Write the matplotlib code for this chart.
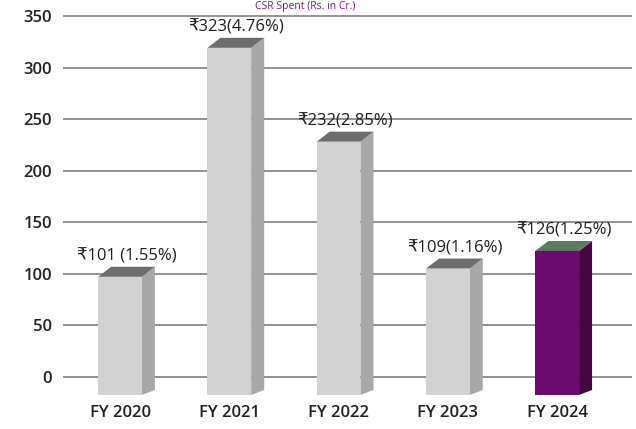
import numpy as np
import matplotlib
matplotlib.use("Agg")
import matplotlib.pyplot as plt
from matplotlib.patches import Polygon, Rectangle
from matplotlib.transforms import offset_copy

plt.rcParams['font.family'] = ['Open Sans', 'DejaVu Sans']

years = ['FY 2020', 'FY 2021', 'FY 2022', 'FY 2023', 'FY 2024']
spent = [101, 323, 232, 109, 126]
pct = ['1.55', '4.76', '2.85', '1.16', '1.25']
labels = ['\u20b9101 (1.55%)', '\u20b9323(4.76%)', '\u20b9232(2.85%)',
          '\u20b9109(1.16%)', '\u20b9126(1.25%)']

front_cols = ['#d2d2d2'] * 4 + ['#6b0a6f']
side_cols = ['#a8a8a8'] * 4 + ['#46063f']
top_cols = ['#6d6d6d'] * 4 + ['#5c7860']

fig = plt.figure(figsize=(6.36, 4.29), dpi=100)
ax = fig.add_axes([0.099, 0.0732, 0.895, 0.9016])
ax.set_xlim(-0.522, 4.686)
ax.set_ylim(-20, 355)

# back wall gridlines
for v in range(0, 351, 50):
    ax.axhline(v, color='#8a8a8a', lw=1.3, zorder=1)

# fake 3d columns: front face a touch lower than the wall, plinth down to the floor,
# side + top faces going back-right
front = offset_copy(ax.transData, fig=fig, x=0, y=-4, units='dots')
w = 0.40
px_y = 1.0314                 # pixels per unit on y
dx = 13 / 109.25
dy_top = 10 / px_y
dy_bot = 5 / px_y
floor = -14 / px_y            # floor sits in front of / below the 0 line
x = np.arange(len(years))

ax.bar(x, spent, width=w, color=front_cols, transform=front, zorder=3,
       edgecolor='none', clip_on=False)
for xi, v, fc, sc, tc in zip(x, spent, front_cols, side_cols, top_cols):
    r = xi + w / 2
    l = xi - w / 2
    ax.add_patch(Rectangle((l, floor), w, -floor + 0.5, facecolor=fc,
                           edgecolor='none', transform=front, zorder=3,
                           clip_on=False))
    side = Polygon([(r, floor), (r, v), (r + dx, v + dy_top),
                    (r + dx, floor + dy_bot)],
                   closed=True, facecolor=sc, edgecolor='none',
                   transform=front, zorder=2.5, clip_on=False)
    top = Polygon([(l, v), (r, v), (r + dx, v + dy_top), (l + dx, v + dy_top)],
                  closed=True, facecolor=tc, edgecolor='none',
                  transform=front, zorder=3.5, clip_on=False)
    ax.add_patch(side)
    ax.add_patch(top)

for xi, v, lab in zip(x, spent, labels):
    ax.annotate(lab, xy=(xi + dx / 2, v), xytext=(0, 6),
                textcoords='offset points', ha='center', va='bottom',
                fontsize=12, color='#1e1e1e', zorder=5)

ax.set_xticks(x)
ax.set_xticklabels(years)
ax.set_yticks(range(0, 351, 50))
ax.tick_params(axis='both', length=0, labelsize=12, colors='#222222')
ax.tick_params(axis='y', pad=8)
ax.tick_params(axis='x', pad=5)
for lbl in ax.get_xticklabels() + ax.get_yticklabels():
    lbl.set_fontweight('semibold')
for s in ax.spines.values():
    s.set_visible(False)

fig.text(0.48, 0.998, 'CSR Spent (Rs. in Cr.)', ha='center', va='top',
         fontsize=7.5, color='#7a1a7e')

fig.savefig('out.png', dpi=100, facecolor='white')
